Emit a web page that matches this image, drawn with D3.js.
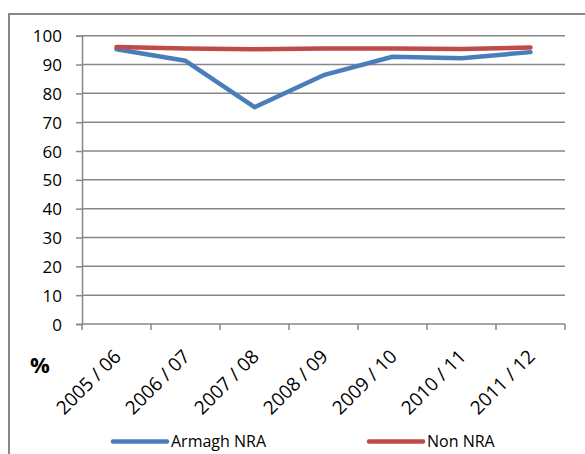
<!DOCTYPE html>
<html>
<head>
<meta charset="utf-8">
<script src="https://cdn.jsdelivr.net/npm/d3@7"></script>
<style>
  body { margin: 0; background: #fff; }
  svg text { font-family: "Open Sans", "Liberation Sans", sans-serif; fill: #000; }
</style>
</head>
<body>
<svg width="585" height="454" viewBox="0 0 585 454"></svg>
<script>
// Data
const years = ["2005 / 06", "2006 / 07", "2007 / 08", "2008 / 09", "2009 / 10", "2010 / 11", "2011 / 12"];
const armaghNRA = [95.3, 91.3, 75.2, 86.3, 92.7, 92.2, 94.3];
const nonNRA = [96.1, 95.6, 95.3, 95.6, 95.6, 95.4, 95.9];
const yTicks = [0, 10, 20, 30, 40, 50, 60, 70, 80, 90, 100];
const seriesNames = ["Armagh NRA", "Non NRA"];
const seriesColors = ["#4a7ebb", "#be4b48"];

const svg = d3.select("svg");
const grid = "#878787";

// Outer chart frame (runs off right and bottom)
svg.append("rect")
    .attr("x", 9).attr("y", 14)
    .attr("width", 620).attr("height", 500)
    .attr("fill", "none").attr("stroke", grid).attr("stroke-width", 2);

const plotLeft = 82, plotRight = 565, plotTop = 35.7, plotBottom = 324;

const x = d3.scaleBand().domain(years).range([plotLeft, plotRight]);
const y = d3.scaleLinear().domain([0, 100]).range([plotBottom, plotTop]);

// Gridlines
svg.append("g")
    .selectAll("line")
    .data(yTicks.filter(d => d > 0))
    .enter().append("line")
    .attr("x1", plotLeft).attr("x2", plotRight)
    .attr("y1", d => y(d)).attr("y2", d => y(d))
    .attr("stroke", grid).attr("stroke-width", 1.5);

// Y axis
const yAxis = svg.append("g")
    .attr("transform", `translate(${plotLeft},0)`)
    .call(d3.axisLeft(y).tickValues(yTicks).tickSize(6).tickPadding(14));
yAxis.select(".domain").attr("stroke", grid).attr("stroke-width", 1.5);
yAxis.selectAll(".tick line").attr("stroke", grid).attr("stroke-width", 1.5);
yAxis.selectAll(".tick text").style("font-size", "17px").attr("dy", "0.36em");

// X axis: ticks at category boundaries
const xAxis = svg.append("g").attr("transform", `translate(0,${plotBottom})`);
xAxis.append("line")
    .attr("x1", plotLeft).attr("x2", plotRight)
    .attr("stroke", grid).attr("stroke-width", 1.5);
xAxis.selectAll(".bound")
    .data(years.concat([null]))
    .enter().append("line")
    .attr("x1", (d, i) => plotLeft + i * x.bandwidth())
    .attr("x2", (d, i) => plotLeft + i * x.bandwidth())
    .attr("y1", 0).attr("y2", 6)
    .attr("stroke", grid).attr("stroke-width", 1.5);
xAxis.selectAll(".lbl")
    .data(years)
    .enter().append("text")
    .attr("transform", d => `translate(${x(d) + x.bandwidth() / 2 + 1},${29}) rotate(-45)`)
    .attr("text-anchor", "end")
    .attr("dy", "0.35em")
    .style("font-size", "19px")
    .text(d => d);

// Axis title
svg.append("text")
    .attr("x", 40).attr("y", 373)
    .attr("text-anchor", "middle")
    .style("font-size", "22px").style("font-weight", "bold")
    .text("%");

// Lines
const line = d3.line()
    .x((d, i) => x(years[i]) + x.bandwidth() / 2)
    .y(d => y(d));

[armaghNRA, nonNRA].forEach((vals, k) => {
    svg.append("path")
        .datum(vals)
        .attr("d", line)
        .attr("fill", "none")
        .attr("stroke", seriesColors[k])
        .attr("stroke-width", 4.5)
        .attr("stroke-linejoin", "round")
        .attr("stroke-linecap", "round");
});

// Legend
const legendX = [113, 369];
const legend = svg.append("g")
    .selectAll("g")
    .data(seriesNames)
    .enter().append("g")
    .attr("transform", (d, i) => `translate(${legendX[i]},441.5)`);
legend.append("line")
    .attr("x1", 0).attr("x2", 54)
    .attr("stroke", (d, i) => seriesColors[i])
    .attr("stroke-width", 4.5)
    .attr("stroke-linecap", "round");
legend.append("text")
    .attr("x", 58).attr("dy", "0.36em")
    .style("font-size", "16px")
    .text(d => d);
</script>
</body>
</html>
